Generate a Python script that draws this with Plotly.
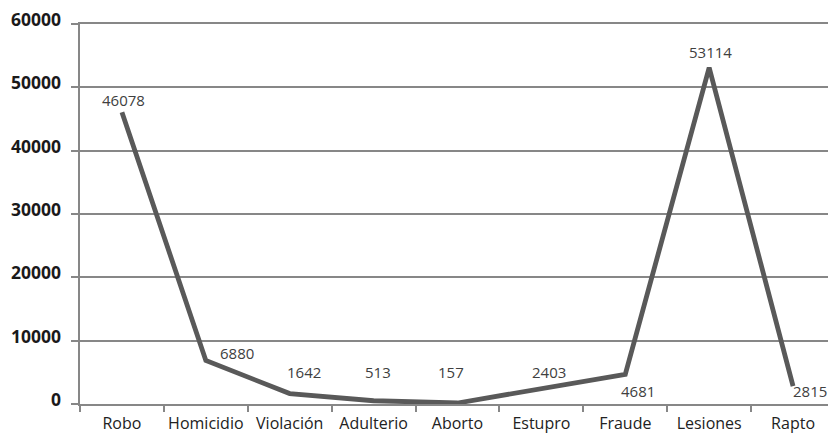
import plotly.graph_objects as go

categories = ["Robo", "Homicidio", "Violación", "Adulterio", "Aborto", "Estupro", "Fraude", "Lesiones", "Rapto"]
values = [46078, 6880, 1642, 513, 157, 2403, 4681, 53114, 2815]
y_ticks = [0, 10000, 20000, 30000, 40000, 50000, 60000]

# label offsets in pixels (x, y) relative to each point (label centre)
label_dx = [2, 31, 14, 4, -7, 8, 13, 1, 17]
label_dy = [12, 7, 22, 29, 31, 17, -17, 16, -5]

FONT = "Open Sans"

fig = go.Figure()
fig.add_trace(go.Scatter(
    x=categories, y=values, mode="lines",
    line=dict(color="#595959", width=4.8),
    hoverinfo="skip", showlegend=False,
))

for c, v, dx, dy in zip(categories, values, label_dx, label_dy):
    fig.add_annotation(
        x=c, y=v, text=str(v), showarrow=False,
        xshift=dx, yshift=dy,
        font=dict(family=FONT, size=15, color="#404040"),
    )

# y tick labels sit slightly above their gridlines
for t in y_ticks:
    fig.add_annotation(
        xref="paper", x=0, y=t, yref="y", text=str(t), showarrow=False,
        xanchor="right", xshift=-17, yshift=5,
        font=dict(family=FONT, size=17.5, color="#1a1a1a", weight="bold"),
    )

# page body has an 8px default margin, so the figure is offset by 8px
fig.update_layout(
    width=828, height=425,
    margin=dict(l=72, r=1, t=16, b=29, autoexpand=False),
    paper_bgcolor="white", plot_bgcolor="white",
    showlegend=False,
)
fig.update_xaxes(
    type="category", tickson="boundaries", automargin=False,
    ticks="outside", ticklen=6, tickcolor="#878787", tickwidth=1.5,
    showline=True, linecolor="#878787", linewidth=1.5, mirror=True,
    showgrid=False, tickangle=0, ticklabelstandoff=4,
    tickfont=dict(family=FONT, size=16, color="#222222"),
    range=[-0.5, 8.5],
)
fig.update_yaxes(
    range=[0, 60000], tickvals=y_ticks, showticklabels=False,
    automargin=False,
    showgrid=True, gridcolor="#878787", gridwidth=1.5,
    showline=True, linecolor="#878787", linewidth=1.5,
    ticks="outside", ticklen=7, tickcolor="#878787", tickwidth=1.5,
    zeroline=False,
)

fig.write_html("out.html")
